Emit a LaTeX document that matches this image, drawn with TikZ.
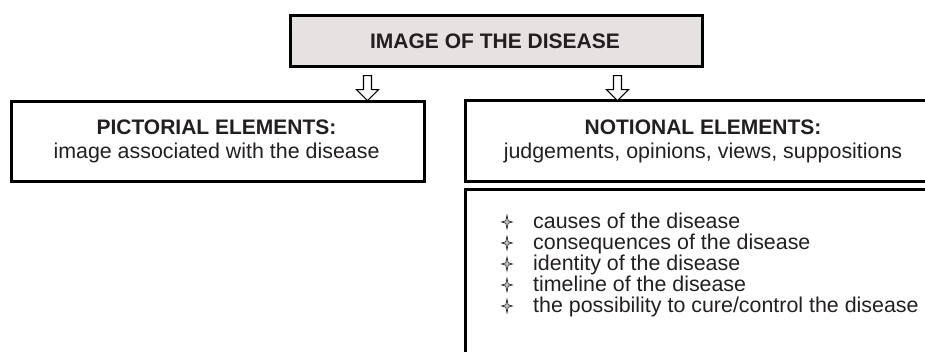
\documentclass[tikz,border=0pt]{standalone}
\usepackage{fontspec}
\setmainfont{Liberation Sans}
\usetikzlibrary{calc}
\definecolor{txt}{HTML}{231F20}
\definecolor{topfill}{HTML}{E6E2E2}
\begin{document}
\begin{tikzpicture}[x=1pt,y=-1pt,
  boxstyle/.style={draw=black, line width=2.6pt, rectangle, inner sep=0pt, anchor=north west},
  ttl/.style={font=\fontsize{21}{25}\selectfont\bfseries, text=txt, inner sep=0pt, anchor=base},
  body/.style={font=\fontsize{21.4}{25}\selectfont, text=txt, inner sep=0pt, anchor=base},
  item/.style={font=\fontsize{21.4}{25}\selectfont, text=txt, inner sep=0pt, anchor=base west},
  hollow/.style={draw=black, line width=1.1pt, fill=white, line join=miter},
  starb/.style={fill=gray!45, draw=black!90, line width=0.6pt, line join=miter}]
\useasboundingbox (0,0) rectangle (925,351);
\clip (0,0) rectangle (925,351);
% top box
\node[boxstyle, fill=topfill, minimum width=412pt, minimum height=51pt] (top) at (289,14) {};
\node[ttl] (toptext) at (495,48) {IMAGE OF THE DISEASE};
% left box
\node[boxstyle, minimum width=413pt, minimum height=80pt] (pict) at (10,100) {};
\node[ttl] (pt1) at (216.5,134) {PICTORIAL ELEMENTS:};
\node[body] (pt2) at (216.5,158) {image associated with the disease};
% right box
\node[boxstyle, minimum width=479pt, minimum height=81pt] (notn) at (464,99) {};
\node[ttl] (nt1) at (703,134) {NOTIONAL ELEMENTS:};
\node[body] (nt2) at (703,158) {judgements, opinions, views, suppositions};
% list box
\node[boxstyle, minimum width=500pt, minimum height=200pt] (list) at (464,188) {};
\foreach \t [count=\i from 0] in {causes of the disease, consequences of the disease, identity of the disease, timeline of the disease, the possibility to cure/control the disease} {
  \node[item] (r\i) at (533,228+21*\i) {\t};
  \draw[starb, shift={($(r\i.base west)+(-26,-6)$)}] (0,-7) -- (1.2,-1.2) -- (5.5,0) -- (1.2,1.2) -- (0,7) -- (-1.2,1.2) -- (-5.5,0) -- (-1.2,-1.2) -- cycle;
}
% hollow arrows
\coordinate (la) at ($(top.south west)+(78.5,8)$);
\coordinate (ra) at ($(top.south west)+(328.5,8)$);
\draw[hollow] (la) ++(-4,0) -- ++(0,14) -- ++(-7,0) -- ++(11,11) -- ++(11,-11) -- ++(-7,0) -- ++(0,-14) -- cycle;
\draw[hollow] (ra) ++(-4,0) -- ++(0,14) -- ++(-7,0) -- ++(11,11) -- ++(11,-11) -- ++(-7,0) -- ++(0,-14) -- cycle;
\end{tikzpicture}
\end{document}
